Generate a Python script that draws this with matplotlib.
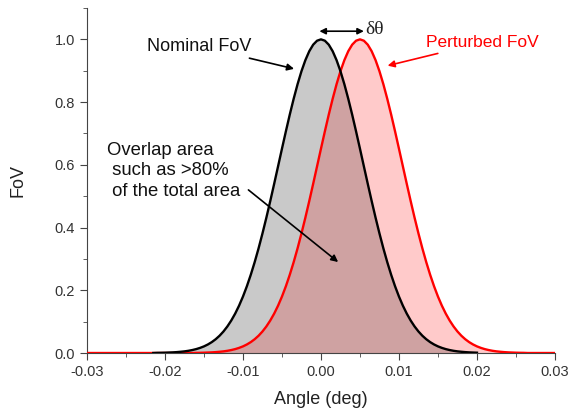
import numpy as np
import matplotlib
matplotlib.use("Agg")
import matplotlib.pyplot as plt
from matplotlib.ticker import MultipleLocator

plt.rcParams['font.family'] = ['Liberation Sans', 'DejaVu Sans']

# sampling grid of the angle axis, step 0.0005 deg
angle = np.linspace(-0.03, 0.03, 121)

# FoV values at each grid angle
nominal = [0, 0, 0, 0, 0, 0, 0, 0, 0, 0, 0, 0, 0, 0, 0, 0, 0, 0,
           0.0005, 0.0007, 0.0010, 0.0015, 0.0020, 0.0028, 0.0039, 0.0052, 0.0070, 0.0094,
           0.0124, 0.0163, 0.0211, 0.0272, 0.0347, 0.0439, 0.0551, 0.0686, 0.0847, 0.1036,
           0.1256, 0.1510, 0.1800, 0.2128, 0.2494, 0.2897, 0.3337, 0.3812, 0.4316, 0.4846,
           0.5394, 0.5953, 0.6514, 0.7066, 0.7601, 0.8105, 0.8570, 0.8984, 0.9337, 0.9622,
           0.9830, 0.9957, 1.0000, 0.9957, 0.9830, 0.9622, 0.9337, 0.8984, 0.8570, 0.8105,
           0.7601, 0.7066, 0.6514, 0.5953, 0.5394, 0.4846, 0.4316, 0.3812, 0.3337, 0.2897,
           0.2494, 0.2128, 0.1800, 0.1510, 0.1256, 0.1036, 0.0847, 0.0686, 0.0551, 0.0439,
           0.0347, 0.0272, 0.0211, 0.0163, 0.0124, 0.0094, 0.0070, 0.0052, 0.0039, 0.0028,
           0.0020, 0.0015, 0.0010, 0.0007, 0.0005,
           0, 0, 0, 0, 0, 0, 0, 0, 0, 0, 0, 0, 0, 0, 0, 0, 0, 0]

perturbed = [0, 0, 0, 0, 0, 0, 0, 0, 0, 0, 0, 0, 0, 0, 0, 0, 0, 0, 0, 0,
             0, 0, 0, 0, 0, 0, 0, 0,
             0.0005, 0.0007, 0.0010, 0.0015, 0.0020, 0.0028, 0.0039, 0.0052, 0.0070, 0.0094,
             0.0124, 0.0163, 0.0211, 0.0272, 0.0347, 0.0439, 0.0551, 0.0686, 0.0847, 0.1036,
             0.1256, 0.1510, 0.1800, 0.2128, 0.2494, 0.2897, 0.3337, 0.3812, 0.4316, 0.4846,
             0.5394, 0.5953, 0.6514, 0.7066, 0.7601, 0.8105, 0.8570, 0.8984, 0.9337, 0.9622,
             0.9830, 0.9957, 1.0000, 0.9957, 0.9830, 0.9622, 0.9337, 0.8984, 0.8570, 0.8105,
             0.7601, 0.7066, 0.6514, 0.5953, 0.5394, 0.4846, 0.4316, 0.3812, 0.3337, 0.2897,
             0.2494, 0.2128, 0.1800, 0.1510, 0.1256, 0.1036, 0.0847, 0.0686, 0.0551, 0.0439,
             0.0347, 0.0272, 0.0211, 0.0163, 0.0124, 0.0094, 0.0070, 0.0052, 0.0039, 0.0028,
             0.0020, 0.0015, 0.0010, 0.0007, 0.0005,
             0, 0, 0, 0, 0, 0, 0, 0]

x = angle
y_nom = np.array(nominal)
y_per = np.array(perturbed)
nom_mask = (x >= -0.0215) & (x <= 0.0205)

fig = plt.figure(figsize=(5.7, 4.12), dpi=100)
ax = fig.add_axes([0.1526, 0.1432, 0.821, 0.8374])

ax.fill_between(x, 0, y_nom, color='#c9c9c9', lw=0)
ax.fill_between(x, 0, y_per, color='#ffcaca', lw=0)
ax.fill_between(x, 0, np.minimum(y_nom, y_per), color='#cfa2a2', lw=0)
ax.plot(x, y_per, color='red', lw=1.7, zorder=3)
ax.plot(x[nom_mask], y_nom[nom_mask], color='black', lw=1.7, zorder=4)

ax.set_xlim(-0.03, 0.03)
ax.set_ylim(0, 1.1)
for s in ['top', 'right']:
    ax.spines[s].set_visible(False)
for s in ['left', 'bottom']:
    ax.spines[s].set_color('#444444')
ax.xaxis.set_minor_locator(MultipleLocator(0.005))
ax.yaxis.set_minor_locator(MultipleLocator(0.1))
ax.set_yticks([0, 0.2, 0.4, 0.6, 0.8, 1.0])
ax.set_yticklabels(['0.0', '0.2', '0.4', '0.6', '0.8', '1.0'])
ax.set_xticks([-0.03, -0.02, -0.01, 0, 0.01, 0.02, 0.03])
ax.set_xticklabels(['-0.03', '-0.02', '-0.01', '0.00', '0.01', '0.02', '0.03'])
ax.tick_params(which='both', direction='out', colors='#444444', labelcolor='#333333', labelsize=10.5)
ax.tick_params(which='major', length=5)
ax.tick_params(which='minor', length=3)
ax.set_xlabel('Angle (deg)', fontsize=13, color='#222222', labelpad=9)
ax.set_ylabel('FoV', fontsize=13, color='#222222', labelpad=20)

ax.annotate('Nominal FoV', xy=(-0.0031, 0.904), xytext=(-0.0089, 0.978),
            ha='right', va='center', fontsize=13, color='#111111',
            arrowprops=dict(arrowstyle='-|>', color='black', lw=1.2, mutation_scale=10))
ax.annotate('Perturbed FoV', xy=(0.0082, 0.914), xytext=(0.0135, 0.99),
            ha='left', va='center', fontsize=12.5, color='red',
            arrowprops=dict(arrowstyle='-|>', color='red', lw=1.2, mutation_scale=10))
ax.annotate('', xy=(-0.0002, 1.026), xytext=(0.0055, 1.026),
            arrowprops=dict(arrowstyle='<|-|>', color='black', lw=1.2, mutation_scale=9,
                            shrinkA=0, shrinkB=0))
ax.text(0.0057, 1.03, 'δθ', fontsize=14, color='#222222', ha='left', va='center',
        family=['Liberation Serif', 'DejaVu Serif'])
ax.text(-0.0274, 0.502, 'Overlap area\n such as >80%\n of the total area', fontsize=13.3,
        color='#111111', ha='left', va='baseline', linespacing=1.25)
ax.annotate('', xy=(0.0022, 0.29), xytext=(-0.0093, 0.52),
            arrowprops=dict(arrowstyle='-|>', color='black', lw=1.2, mutation_scale=10,
                            shrinkA=0, shrinkB=0))

fig.savefig('out.png', dpi=100)
